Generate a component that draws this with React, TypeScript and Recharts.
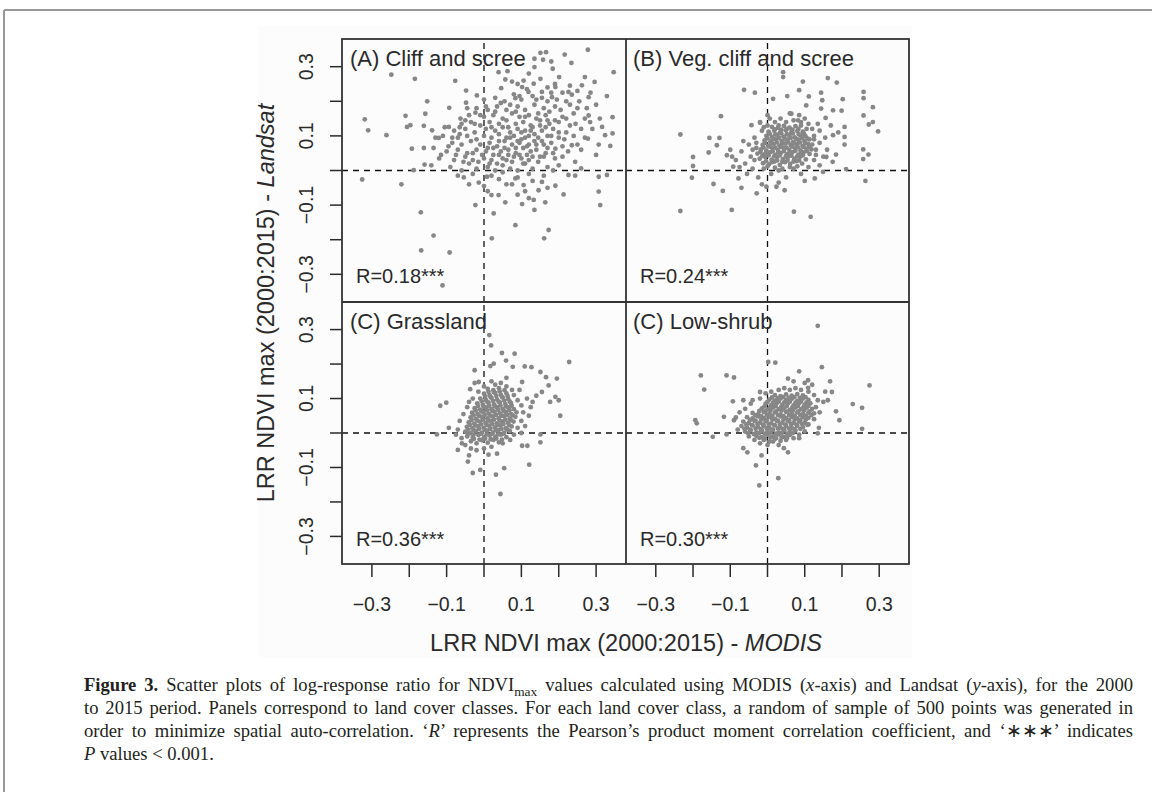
import React from "react";
import { ScatterChart, Scatter, XAxis, YAxis, ReferenceLine } from "recharts";

type Pt = [number, number];

// (A) Cliff and scree
const cliffOuter: Pt[] = [
  [0.278, 0.349], [0.166, 0.342], [0.151, 0.34], [0.216, 0.335], [0.135, 0.323], [0.158, 0.32], [0.18, 0.315],
  [0.234, 0.311], [0.135, 0.299], [0.184, 0.294], [0.347, 0.284], [0.039, 0.284], [0.063, 0.287], [-0.248, 0.277],
  [-0.185, 0.265], [-0.077, 0.259], [0.057, 0.263], [0.075, 0.257], [0.106, 0.26], [0.151, 0.265], [0.201, 0.27],
  [0.296, 0.256], [0.262, 0.246], [0.102, 0.241], [0.046, 0.238], [0.133, 0.251], [0.191, 0.241], [0.119, 0.227],
  [0.155, 0.227], [0.182, 0.212], [0.226, 0.227], [0.235, 0.219], [0.28, 0.212], [0.329, 0.215], [-0.048, 0.231],
  [-0.019, 0.217], [0.084, 0.209], [-0.152, 0.2], [-0.048, 0.196], [-0.023, 0.167], [-0.093, 0.181], [-0.157, 0.164],
  [-0.21, 0.158], [-0.319, 0.148], [-0.31, 0.116], [-0.261, 0.102], [-0.197, 0.131], [-0.206, 0.126], [-0.161, 0.129],
  [-0.139, 0.116], [-0.121, 0.094], [-0.094, 0.126], [-0.063, 0.15], [-0.193, 0.063], [-0.161, 0.065], [0.344, 0.154],
  [0.28, 0.159], [0.284, 0.14], [0.316, 0.126], [0.324, 0.102], [0.344, 0.107], [0.307, 0.075], [0.338, 0.071],
  [0.191, 0.063], [0.235, 0.073], [0.278, 0.092], [0.2, 0.015], [0.244, 0.025], [0.26, 0.006], [0.244, -0.015],
  [0.307, -0.018], [0.329, -0.013], [-0.326, -0.026], [-0.221, -0.04], [-0.188, 0.001], [-0.159, 0.017], [-0.141, 0.015],
  [-0.054, -0.02], [-0.014, -0.035], [0.008, -0.018], [0.039, -0.071], [0.057, -0.092], [0.102, -0.097], [0.133, -0.085],
  [0.135, -0.114], [0.164, -0.092], [0.146, -0.057], [0.213, -0.069], [0.084, -0.023], [0.084, -0.158], [0.173, -0.172],
  [0.161, -0.196], [0.021, -0.196], [0.026, -0.124], [-0.023, -0.1], [0.02, -0.071], [-0.169, -0.121], [-0.135, -0.188],
  [-0.168, -0.231], [-0.092, -0.237], [-0.111, -0.332], [0.307, -0.061], [0.311, -0.1], [0.106, -0.042], [0.155, -0.033],
  [0.191, -0.044], [0.226, -0.013],
];
const cliffCore: Pt[] = [
  [-0.09, 0.01], [-0.06, 0.0], [-0.04, 0.02], [-0.02, 0.005], [0.01, 0.01], [0.03, 0.0], [0.05, 0.015], [0.07, 0.005],
  [0.09, 0.0], [0.11, 0.02], [0.13, 0.005], [0.17, 0.01], [-0.12, 0.035], [-0.08, 0.03], [-0.05, 0.04], [-0.03, 0.03],
  [0.0, 0.035], [0.02, 0.03], [0.04, 0.045], [0.06, 0.03], [0.08, 0.04], [0.1, 0.035], [0.12, 0.03], [0.15, 0.04],
  [0.19, 0.035], [-0.1, 0.055], [-0.07, 0.06], [-0.045, 0.05], [-0.02, 0.06], [0.005, 0.055], [0.025, 0.065], [0.045, 0.055],
  [0.065, 0.06], [0.085, 0.05], [0.105, 0.065], [0.125, 0.055], [0.14, 0.06], [0.165, 0.05], [-0.085, 0.08], [-0.06, 0.075],
  [-0.035, 0.085], [-0.01, 0.075], [0.015, 0.08], [0.035, 0.07], [0.055, 0.085], [0.075, 0.075], [0.095, 0.08], [0.115, 0.07],
  [0.135, 0.085], [0.16, 0.075], [0.18, 0.08], [0.21, 0.07], [-0.11, 0.1], [-0.07, 0.095], [-0.045, 0.1], [-0.02, 0.09],
  [0.0, 0.1], [0.02, 0.095], [0.04, 0.105], [0.06, 0.095], [0.08, 0.1], [0.1, 0.09], [0.12, 0.1], [0.145, 0.095],
  [0.17, 0.1], [0.2, 0.095], [-0.08, 0.115], [-0.05, 0.12], [-0.025, 0.11], [0.005, 0.12], [0.03, 0.115], [0.05, 0.125],
  [0.07, 0.11], [0.09, 0.12], [0.11, 0.115], [0.13, 0.125], [0.155, 0.115], [0.185, 0.12], [0.22, 0.11], [-0.06, 0.135],
  [-0.035, 0.14], [-0.01, 0.13], [0.015, 0.14], [0.04, 0.135], [0.06, 0.145], [0.085, 0.135], [0.105, 0.14], [0.125, 0.13],
  [0.15, 0.145], [0.175, 0.135], [0.2, 0.14], [-0.04, 0.16], [0.0, 0.155], [0.025, 0.16], [0.05, 0.15], [0.075, 0.165],
  [0.095, 0.155], [0.12, 0.16], [0.14, 0.15], [0.165, 0.16], [0.21, 0.155], [0.24, 0.165], [-0.02, 0.18], [0.01, 0.175],
  [0.035, 0.185], [0.06, 0.175], [0.09, 0.185], [0.11, 0.175], [0.135, 0.19], [0.16, 0.18], [0.19, 0.185], [0.23, 0.19],
  [0.0, 0.205], [0.03, 0.21], [0.055, 0.2], [0.08, 0.22], [0.1, 0.205], [0.13, 0.215], [0.17, 0.2], [-0.03, -0.01],
  [0.02, -0.015], [0.05, -0.005], [0.09, -0.02], [0.12, -0.01], [-0.07, -0.015], [0.0, -0.045], [0.06, -0.04], [0.11, -0.06],
  [0.17, -0.05], [0.22, 0.2], [0.25, 0.18], [0.27, 0.15], [0.24, 0.1], [0.26, 0.06], [0.21, 0.04], [0.23, 0.13],
  [0.19, 0.25], [0.17, 0.24], [0.12, 0.28], [0.09, 0.25], [0.27, 0.27], [0.3, 0.19], [0.31, 0.15], [0.25, 0.23],
];
const cliffExtra: Pt[] = [
  [-0.115, 0.045], [-0.095, 0.07], [-0.075, 0.045], [-0.055, 0.025], [-0.065, 0.105], [-0.05, 0.145], [-0.03, 0.05],
  [-0.015, 0.025], [-0.005, 0.045], [0.01, 0.065], [0.015, 0.02], [0.025, 0.045], [0.035, 0.02], [0.04, 0.085],
  [0.05, 0.035], [0.055, 0.065], [0.065, 0.045], [0.07, 0.095], [0.075, 0.025], [0.085, 0.065], [0.09, 0.085],
  [0.095, 0.045], [0.1, 0.11], [0.105, 0.02], [0.11, 0.095], [0.115, 0.045], [0.12, 0.075], [0.125, 0.115],
  [0.13, 0.04], [0.135, 0.105], [0.14, 0.075], [0.145, 0.025], [0.15, 0.13], [0.155, 0.085], [0.16, 0.04],
  [0.165, 0.125], [0.17, 0.065], [0.175, 0.17], [0.18, 0.1], [0.185, 0.05], [0.19, 0.145], [0.195, 0.205],
  [0.2, 0.11], [0.205, 0.175], [0.21, 0.225], [0.215, 0.09], [0.22, 0.15], [0.225, 0.055], [0.23, 0.245],
  [0.245, 0.135], [0.25, 0.075], [0.255, 0.2], [0.26, 0.12], [0.27, 0.095], [0.275, 0.18], [0.285, 0.225],
  [0.29, 0.12], [0.3, 0.045], [-0.025, 0.135], [-0.01, 0.16], [0.005, 0.185], [0.02, 0.125], [0.03, 0.17],
  [0.045, 0.195], [0.065, 0.125], [0.07, 0.19], [0.085, 0.17], [0.095, 0.215], [0.11, 0.155], [0.115, 0.235],
  [0.14, 0.205], [0.145, 0.165], [0.155, 0.21], [0.17, 0.145], [0.18, 0.225], [-0.045, 0.18], [-0.065, 0.125],
  [-0.085, 0.095], [-0.105, 0.125], [-0.135, 0.065], [-0.13, 0.095], [0.04, -0.025], [0.075, -0.04], [0.13, -0.03],
  [0.16, -0.015], [0.185, 0.0], [-0.04, -0.04], [0.01, -0.06], [0.09, -0.07], [0.12, -0.08],
];

// (B) Veg. cliff and scree
const vegOuter: Pt[] = [
  [0.042, 0.284], [0.042, 0.27], [0.162, 0.267], [0.186, 0.254], [0.095, 0.257], [-0.063, 0.233], [-0.034, 0.225],
  [0.015, 0.207], [0.053, 0.215], [0.085, 0.232], [0.111, 0.214], [0.144, 0.225], [0.147, 0.203], [0.202, 0.206],
  [0.258, 0.227], [0.258, 0.209], [0.283, 0.183], [0.258, 0.159], [0.176, 0.174], [0.199, 0.173], [0.144, 0.179],
  [0.104, 0.188], [-0.125, 0.157], [-0.234, 0.104], [-0.156, 0.094], [-0.129, 0.094], [-0.158, 0.052], [-0.2, 0.039],
  [-0.2, 0.013], [-0.203, -0.021], [-0.145, -0.039], [-0.12, -0.059], [-0.234, -0.117], [-0.096, -0.114], [-0.029, -0.066],
  [0.071, -0.119], [0.116, -0.134], [0.283, 0.14], [0.272, 0.133], [0.297, 0.113], [0.207, 0.126], [0.207, 0.097],
  [0.207, 0.075], [0.257, 0.061], [0.257, 0.033], [0.271, 0.046], [0.263, -0.03], [0.211, 0.004], [0.176, 0.102],
  [0.184, 0.046], [0.158, 0.039], [0.149, -0.004], [0.127, -0.023], [0.046, -0.057], [0.024, -0.047], [-0.003, -0.047],
  [-0.07, -0.05], [-0.078, -0.023], [-0.092, 0.011], [-0.109, 0.044], [-0.136, 0.073], [-0.043, 0.131], [-0.02, 0.138],
  [0.006, 0.15], [0.064, 0.164], [0.082, 0.145], [0.135, 0.135], [0.156, 0.152],
];
const vegCore: Pt[] = [
  [-0.012, 0.021], [0.004, 0.018], [0.019, 0.026], [0.033, 0.016], [0.047, 0.024], [0.061, 0.019], [0.078, 0.027], [0.093, 0.02],
  [-0.021, 0.034], [-0.006, 0.039], [0.011, 0.031], [0.026, 0.038], [0.041, 0.033], [0.057, 0.041], [0.072, 0.034], [0.088, 0.04],
  [0.103, 0.032], [-0.027, 0.049], [-0.011, 0.046], [0.006, 0.052], [0.021, 0.045], [0.036, 0.051], [0.052, 0.047], [0.067, 0.053],
  [0.083, 0.046], [0.097, 0.052], [0.113, 0.048], [-0.018, 0.061], [-0.003, 0.058], [0.013, 0.064], [0.028, 0.059], [0.043, 0.066],
  [0.058, 0.06], [0.074, 0.065], [0.089, 0.058], [0.104, 0.063], [0.118, 0.061], [-0.013, 0.074], [0.002, 0.071], [0.017, 0.077],
  [0.032, 0.072], [0.048, 0.078], [0.063, 0.073], [0.079, 0.076], [0.094, 0.071], [0.109, 0.077], [-0.008, 0.087], [0.008, 0.084],
  [0.023, 0.09], [0.038, 0.085], [0.054, 0.089], [0.069, 0.083], [0.084, 0.088], [0.099, 0.085], [0.113, 0.09], [-0.003, 0.1],
  [0.012, 0.097], [0.027, 0.103], [0.043, 0.098], [0.058, 0.102], [0.073, 0.096], [0.088, 0.101], [0.102, 0.099], [0.003, 0.112],
  [0.018, 0.115], [0.034, 0.11], [0.049, 0.116], [0.064, 0.111], [0.08, 0.114], [0.095, 0.112], [0.012, 0.126], [0.028, 0.123],
  [0.044, 0.129], [0.059, 0.124], [0.075, 0.128], [-0.085, 0.03], [-0.07, 0.055], [-0.06, 0.02], [-0.05, 0.075], [-0.045, 0.04],
  [-0.035, 0.095], [-0.04, 0.005], [-0.03, 0.065], [-0.065, 0.085], [-0.055, -0.01], [-0.025, -0.02], [-0.01, 0.005], [0.01, -0.01],
  [0.03, 0.0], [0.05, -0.02], [0.07, 0.005], [0.09, -0.01], [0.11, 0.01], [0.125, 0.03], [0.13, 0.06], [0.14, 0.08],
  [0.125, 0.1], [0.12, 0.12], [0.11, 0.135], [0.09, 0.13], [0.1, 0.15], [0.07, 0.145], [0.05, 0.14], [0.035, 0.15],
  [0.02, 0.14], [0.0, 0.13], [-0.015, 0.115], [-0.02, 0.14], [0.06, 0.165], [0.085, 0.16], [0.14, 0.115], [0.155, 0.095],
  [0.16, 0.06], [0.15, 0.04], [0.14, 0.015], [0.17, 0.13], [0.19, 0.11], [0.175, 0.025], [0.1, -0.03], [-0.015, -0.04],
  [0.03, -0.035], [-0.075, 0.01], [-0.1, 0.06], [-0.095, 0.04], [0.0, 0.16],
];
const vegDense: Pt[] = [
  [-0.004, 0.027], [0.012, 0.024], [0.026, 0.029], [0.04, 0.025], [0.054, 0.03], [0.07, 0.026], [0.085, 0.029],
  [-0.014, 0.042], [0.003, 0.044], [0.018, 0.041], [0.033, 0.044], [0.049, 0.04], [0.064, 0.043], [0.08, 0.041], [0.095, 0.044],
  [-0.019, 0.054], [-0.004, 0.052], [0.014, 0.055], [0.029, 0.053], [0.044, 0.056], [0.06, 0.053], [0.075, 0.057], [0.09, 0.054],
  [0.106, 0.056], [-0.011, 0.067], [0.006, 0.069], [0.021, 0.066], [0.036, 0.068], [0.051, 0.066], [0.066, 0.069], [0.082, 0.067],
  [0.097, 0.068], [0.112, 0.068], [-0.006, 0.08], [0.01, 0.078], [0.025, 0.081], [0.04, 0.079], [0.056, 0.081], [0.071, 0.079],
  [0.087, 0.081], [0.102, 0.079], [0.0, 0.093], [0.016, 0.091], [0.031, 0.094], [0.047, 0.092], [0.062, 0.094], [0.078, 0.091],
  [0.093, 0.094], [0.108, 0.092], [0.006, 0.106], [0.021, 0.104], [0.037, 0.107], [0.052, 0.105], [0.068, 0.107], [0.084, 0.105],
  [0.098, 0.106], [0.02, 0.119], [0.037, 0.118], [0.052, 0.12], [0.067, 0.118], [0.083, 0.12], [-0.035, 0.03], [-0.04, 0.06],
  [-0.03, 0.08], [0.12, 0.075], [0.125, 0.09], [0.13, 0.045], [0.105, 0.12], [0.09, 0.14], [0.03, 0.13], [-0.01, 0.125],
  [0.06, 0.01], [0.04, 0.005], [0.08, 0.012], [0.02, 0.008], [0.0, 0.012],
];

// (C) Grassland
const grassOuter: Pt[] = [
  [0.014, 0.284], [0.019, 0.254], [0.048, 0.232], [0.082, 0.23], [0.059, 0.21], [0.026, 0.201], [0.017, 0.194],
  [0.077, 0.192], [0.109, 0.193], [0.127, 0.191], [0.228, 0.206], [-0.025, 0.182], [0.151, 0.177], [0.166, 0.162],
  [0.195, 0.158], [0.173, 0.138], [0.155, 0.119], [0.191, 0.105], [0.2, 0.095], [0.177, 0.09], [0.204, 0.05],
  [0.14, 0.108], [-0.117, 0.079], [-0.101, 0.088], [-0.037, 0.127], [-0.014, 0.148], [0.102, 0.148], [-0.094, 0.015],
  [-0.126, -0.004], [0.151, -0.004], [0.151, -0.027], [0.102, -0.037], [0.116, -0.037], [0.121, -0.092], [0.054, -0.102],
  [0.032, -0.121], [-0.01, -0.107], [-0.03, -0.116], [0.044, -0.177], [0.012, -0.063], [-0.059, -0.03], [-0.07, -0.049],
  [-0.043, -0.083],
];
const grassCore: Pt[] = [
  [-0.035, -0.024], [-0.02, -0.03], [-0.005, -0.021], [0.01, -0.028], [0.025, -0.02], [0.04, -0.027], [-0.045, -0.01],
  [-0.03, -0.013], [-0.015, -0.006], [0.0, -0.012], [0.015, -0.007], [0.03, -0.011], [0.045, -0.005], [0.06, -0.012],
  [-0.05, 0.004], [-0.036, 0.0], [-0.021, 0.006], [-0.006, 0.001], [0.009, 0.007], [0.024, 0.002], [0.039, 0.008],
  [0.054, 0.001], [0.069, 0.006], [-0.046, 0.018], [-0.031, 0.014], [-0.016, 0.02], [-0.001, 0.015], [0.014, 0.021],
  [0.029, 0.016], [0.044, 0.022], [0.059, 0.014], [0.074, 0.019], [-0.041, 0.031], [-0.026, 0.027], [-0.011, 0.033],
  [0.004, 0.029], [0.019, 0.035], [0.034, 0.028], [0.049, 0.034], [0.064, 0.03], [0.079, 0.033], [-0.036, 0.045],
  [-0.021, 0.041], [-0.006, 0.047], [0.009, 0.042], [0.024, 0.048], [0.039, 0.043], [0.054, 0.049], [0.069, 0.042],
  [0.084, 0.047], [-0.032, 0.059], [-0.017, 0.055], [-0.002, 0.061], [0.013, 0.056], [0.028, 0.062], [0.043, 0.057],
  [0.058, 0.061], [0.073, 0.055], [0.087, 0.06], [-0.025, 0.072], [-0.01, 0.068], [0.005, 0.074], [0.02, 0.069],
  [0.035, 0.075], [0.05, 0.07], [0.065, 0.074], [0.08, 0.069], [-0.018, 0.086], [-0.003, 0.082], [0.012, 0.088],
  [0.027, 0.083], [0.042, 0.089], [0.057, 0.084], [0.072, 0.087], [-0.01, 0.1], [0.005, 0.096], [0.02, 0.102],
  [0.035, 0.097], [0.05, 0.103], [0.065, 0.098], [0.0, 0.114], [0.015, 0.11], [0.03, 0.116], [0.045, 0.111],
  [0.06, 0.115], [0.01, 0.128], [0.025, 0.124], [0.04, 0.13], [-0.07, 0.01], [-0.065, 0.035], [-0.06, -0.015],
  [-0.055, 0.055], [-0.05, -0.035], [-0.045, 0.075], [-0.035, -0.045], [-0.02, -0.05], [0.0, -0.045], [0.02, -0.04],
  [0.05, -0.03], [0.07, -0.02], [0.08, -0.005], [0.09, 0.015], [0.1, 0.035], [0.105, 0.06], [0.1, 0.08], [0.09, 0.095],
  [0.08, 0.11], [0.075, 0.125], [0.06, 0.135], [0.045, 0.145], [0.03, 0.14], [0.02, 0.15], [0.0, 0.135], [-0.015, 0.12],
  [-0.03, 0.1], [-0.04, 0.09], [0.11, 0.02], [0.12, 0.05], [0.125, 0.075], [0.115, 0.1], [0.13, 0.09], [0.095, 0.125],
  [0.06, 0.16], [-0.025, 0.145], [0.035, -0.06], [-0.04, -0.065], [0.1, 0.0], [-0.075, -0.005],
];
const grassDense: Pt[] = [
  [-0.027, -0.017], [-0.012, -0.019], [0.003, -0.016], [0.018, -0.018], [0.033, -0.016], [0.048, -0.019], [-0.043, -0.003],
  [-0.028, -0.005], [-0.008, -0.002], [0.007, -0.004], [0.022, -0.002], [0.037, -0.004], [0.052, -0.002], [-0.043, 0.01],
  [-0.028, 0.009], [-0.013, 0.012], [0.002, 0.009], [0.017, 0.012], [0.032, 0.009], [0.047, 0.012], [0.062, 0.01],
  [-0.038, 0.024], [-0.023, 0.022], [-0.008, 0.025], [0.007, 0.023], [0.022, 0.026], [0.037, 0.023], [0.052, 0.026],
  [0.067, 0.023], [-0.033, 0.038], [-0.018, 0.036], [-0.003, 0.039], [0.012, 0.036], [0.027, 0.039], [0.042, 0.036],
  [0.057, 0.039], [0.072, 0.037], [-0.028, 0.051], [-0.013, 0.05], [0.002, 0.053], [0.017, 0.05], [0.032, 0.053],
  [0.047, 0.05], [0.062, 0.053], [0.077, 0.051], [-0.022, 0.065], [-0.007, 0.063], [0.008, 0.066], [0.023, 0.064],
  [0.038, 0.067], [0.053, 0.064], [0.068, 0.066], [-0.016, 0.078], [-0.001, 0.076], [0.014, 0.079], [0.029, 0.077],
  [0.044, 0.08], [0.059, 0.077], [0.074, 0.079], [-0.006, 0.092], [0.009, 0.09], [0.024, 0.093], [0.039, 0.091],
  [0.054, 0.094], [0.069, 0.091], [0.003, 0.106], [0.018, 0.104], [0.033, 0.107], [0.048, 0.105], [0.063, 0.107],
  [0.012, 0.12], [0.027, 0.118], [0.042, 0.121], [0.055, 0.124],
];

// (C) Low-shrub
const shrubOuter: Pt[] = [
  [0.135, 0.311], [0.002, 0.206], [0.021, 0.204], [-0.179, 0.167], [-0.11, 0.167], [-0.09, 0.161], [-0.17, 0.126],
  [0.085, 0.179], [0.146, 0.191], [0.274, 0.138], [0.168, 0.15], [0.173, 0.119], [0.162, 0.095], [0.229, 0.084],
  [0.254, 0.073], [0.184, 0.063], [0.193, 0.037], [0.254, 0.012], [-0.194, 0.037], [-0.19, 0.028], [-0.147, -0.011],
  [-0.11, -0.004], [-0.117, 0.047], [-0.093, 0.092], [-0.065, 0.095], [-0.09, 0.037], [-0.02, 0.119], [0.055, 0.158],
  [0.109, 0.153], [0.109, 0.131], [-0.065, -0.044], [-0.054, -0.056], [-0.016, -0.065], [-0.031, -0.094], [-0.022, -0.152],
  [0.029, -0.131], [0.044, -0.044], [0.055, -0.056], [0.085, -0.015], [0.135, -0.001], [0.138, 0.015], [0.015, -0.025],
];
const shrubCore: Pt[] = [
  [-0.01, -0.02], [0.005, -0.025], [0.02, -0.017], [0.035, -0.023], [-0.03, -0.008], [-0.015, -0.012], [0.0, -0.005],
  [0.015, -0.01], [0.03, -0.004], [0.045, -0.011], [0.06, -0.006], [-0.06, 0.004], [-0.045, 0.008], [-0.03, 0.002],
  [-0.015, 0.007], [0.0, 0.003], [0.015, 0.009], [0.03, 0.002], [0.045, 0.008], [0.06, 0.003], [0.075, 0.007],
  [-0.07, 0.02], [-0.055, 0.016], [-0.04, 0.022], [-0.025, 0.017], [-0.01, 0.021], [0.005, 0.015], [0.02, 0.022],
  [0.035, 0.016], [0.05, 0.02], [0.065, 0.015], [0.08, 0.021], [0.095, 0.017], [-0.065, 0.033], [-0.05, 0.029],
  [-0.035, 0.035], [-0.02, 0.03], [-0.005, 0.034], [0.01, 0.028], [0.025, 0.035], [0.04, 0.03], [0.055, 0.034],
  [0.07, 0.029], [0.085, 0.033], [0.1, 0.03], [-0.055, 0.046], [-0.04, 0.042], [-0.025, 0.048], [-0.01, 0.043],
  [0.005, 0.047], [0.02, 0.041], [0.035, 0.048], [0.05, 0.043], [0.065, 0.047], [0.08, 0.042], [0.095, 0.046],
  [0.11, 0.044], [-0.04, 0.058], [-0.025, 0.055], [-0.01, 0.061], [0.005, 0.056], [0.02, 0.06], [0.035, 0.054],
  [0.05, 0.061], [0.065, 0.056], [0.08, 0.06], [0.095, 0.055], [0.11, 0.059], [0.125, 0.057], [-0.015, 0.071],
  [0.0, 0.068], [0.015, 0.074], [0.03, 0.069], [0.045, 0.073], [0.06, 0.067], [0.075, 0.074], [0.09, 0.069],
  [0.105, 0.073], [0.12, 0.07], [-0.005, 0.085], [0.01, 0.081], [0.025, 0.087], [0.04, 0.082], [0.055, 0.086],
  [0.07, 0.08], [0.085, 0.087], [0.1, 0.082], [0.115, 0.086], [0.005, 0.097], [0.02, 0.094], [0.035, 0.1],
  [0.05, 0.095], [0.065, 0.099], [0.08, 0.093], [0.095, 0.1], [0.11, 0.096], [0.02, 0.11], [0.035, 0.107],
  [0.05, 0.112], [0.065, 0.108], [0.08, 0.113], [0.095, 0.109], [-0.085, 0.045], [-0.08, 0.01], [-0.075, 0.06],
  [-0.06, 0.07], [-0.045, 0.085], [-0.05, -0.01], [-0.035, -0.02], [-0.04, 0.095], [-0.02, 0.1], [-0.005, 0.115],
  [0.01, 0.12], [0.03, 0.125], [0.045, 0.13], [0.06, 0.125], [0.075, 0.13], [0.09, 0.125], [0.11, 0.12], [0.125, 0.11],
  [0.135, 0.095], [0.13, 0.075], [0.14, 0.06], [0.125, 0.04], [0.11, 0.025], [0.1, 0.005], [0.085, -0.005], [0.07, -0.015],
  [0.05, -0.02], [0.03, -0.035], [0.0, -0.035], [-0.02, -0.03], [0.15, 0.09], [0.155, 0.12], [0.12, 0.14], [0.1, 0.145],
  [0.07, 0.15],
];
const shrubDense: Pt[] = [
  [-0.022, -0.014], [-0.007, -0.016], [0.008, -0.013], [0.023, -0.015], [0.038, -0.013], [0.052, -0.015], [-0.052, -0.001],
  [-0.037, -0.003], [-0.022, 0.0], [-0.007, -0.002], [0.008, 0.001], [0.023, -0.002], [0.038, 0.0], [0.053, -0.002],
  [0.068, 0.0], [-0.062, 0.012], [-0.047, 0.01], [-0.032, 0.013], [-0.017, 0.011], [-0.002, 0.013], [0.013, 0.01],
  [0.028, 0.013], [0.043, 0.011], [0.058, 0.013], [0.073, 0.011], [0.088, 0.012], [-0.057, 0.025], [-0.042, 0.023],
  [-0.027, 0.026], [-0.012, 0.024], [0.003, 0.026], [0.018, 0.023], [0.033, 0.026], [0.048, 0.024], [0.063, 0.026],
  [0.078, 0.024], [0.093, 0.026], [0.107, 0.024], [-0.047, 0.038], [-0.032, 0.036], [-0.017, 0.039], [-0.002, 0.037],
  [0.013, 0.039], [0.028, 0.036], [0.043, 0.039], [0.058, 0.037], [0.073, 0.039], [0.088, 0.037], [0.103, 0.039],
  [-0.032, 0.051], [-0.017, 0.049], [-0.002, 0.052], [0.013, 0.05], [0.028, 0.052], [0.043, 0.049], [0.058, 0.052],
  [0.073, 0.05], [0.088, 0.052], [0.103, 0.05], [0.118, 0.052], [-0.022, 0.064], [-0.007, 0.062], [0.008, 0.065],
  [0.023, 0.063], [0.038, 0.065], [0.053, 0.062], [0.068, 0.065], [0.083, 0.063], [0.098, 0.065], [0.113, 0.063],
  [-0.008, 0.077], [0.007, 0.075], [0.022, 0.078], [0.037, 0.076], [0.052, 0.078], [0.067, 0.075], [0.082, 0.078],
  [0.097, 0.076], [0.11, 0.078], [0.0, 0.09], [0.015, 0.088], [0.03, 0.091], [0.045, 0.089], [0.06, 0.091],
  [0.075, 0.088], [0.09, 0.091], [0.105, 0.089], [0.012, 0.103], [0.027, 0.101], [0.042, 0.104], [0.057, 0.102],
  [0.072, 0.104], [0.087, 0.102], [0.102, 0.104],
];

const panelTitles = ["(A) Cliff and scree", "(B) Veg. cliff and scree", "(C) Grassland", "(C) Low-shrub"];
const panelR = ["R=0.18***", "R=0.24***", "R=0.36***", "R=0.30***"];
const axisTicks = [-0.3, -0.2, -0.1, 0, 0.1, 0.2, 0.3];
const labelledTicks = [-0.3, -0.1, 0.1, 0.3];
const DOMAIN: [number, number] = [-0.38, 0.38];

const SANS = "'Liberation Sans', Arial, Helvetica, sans-serif";
const INK = "#2a2a2a";
const DOT = "#878787";

const fmt = (v: number) => (v < 0 ? "\u2212" + Math.abs(v).toFixed(1) : v.toFixed(1));
const hasLabel = (v: number) => labelledTicks.some((t) => Math.abs(t - v) < 1e-6);
const toRows = (...sets: Pt[][]) => sets.flat().map(([x, y]) => ({ x, y }));

const Dot = (p: any) => <circle cx={p.cx} cy={p.cy} r={2.4} fill={DOT} />;

const XTick = (p: any) =>
  hasLabel(p.payload.value) ? (
    <text x={p.x} y={p.y + 32} textAnchor="middle" fontSize={19.5} fontFamily={SANS} fill={INK}>
      {fmt(p.payload.value)}
    </text>
  ) : (
    <g />
  );

const YTick = (p: any) => {
  if (!hasLabel(p.payload.value)) return <g />;
  const tx = p.x - 22;
  return (
    <text
      x={tx}
      y={p.y}
      transform={`rotate(-90 ${tx} ${p.y})`}
      textAnchor="middle"
      dominantBaseline="central"
      fontSize={19.5}
      fontFamily={SANS}
      fill={INK}
    >
      {fmt(p.payload.value)}
    </text>
  );
};

interface PanelProps {
  rows: { x: number; y: number }[];
  left: number;
  top: number;
  w: number;
  h: number;
  showX: boolean;
  showY: boolean;
}

const Panel: React.FC<PanelProps> = ({ rows, left, top, w, h, showX, showY }) => {
  const yW = showY ? 60 : 0;
  const xH = showX ? 60 : 0;
  return (
    <div style={{ position: "absolute", left: left - yW, top }}>
      <ScatterChart width={w + yW} height={h + xH} margin={{ top: 0, right: 0, bottom: 0, left: 0 }}>
        <XAxis
          type="number"
          dataKey="x"
          domain={DOMAIN}
          ticks={axisTicks}
          interval={0}
          allowDataOverflow
          hide={!showX}
          height={60}
          axisLine={false}
          tickSize={13}
          tickLine={{ stroke: INK, strokeWidth: 1.5 }}
          tick={<XTick />}
        />
        <YAxis
          type="number"
          dataKey="y"
          domain={DOMAIN}
          ticks={axisTicks}
          interval={0}
          allowDataOverflow
          hide={!showY}
          width={60}
          axisLine={false}
          tickSize={12}
          tickLine={{ stroke: INK, strokeWidth: 1.5 }}
          tick={<YTick />}
        />
        <Scatter data={rows} shape={Dot} isAnimationActive={false} />
        <ReferenceLine x={0} stroke="#111" strokeWidth={1.3} strokeDasharray="6 5" />
        <ReferenceLine y={0} stroke="#111" strokeWidth={1.3} strokeDasharray="6 5" />
      </ScatterChart>
    </div>
  );
};

const App: React.FC = () => {
  const textStyle = { fontFamily: SANS, fill: INK };
  const lineStyle: React.CSSProperties = { whiteSpace: "nowrap", textAlign: "justify", textAlignLast: "justify" };
  return (
    <div style={{ position: "absolute", left: 0, top: 0, width: 1152, height: 792, background: "#fff", overflow: "hidden" }}>
      {/* frame + figure background */}
      <svg width={1152} height={792} style={{ position: "absolute", left: 0, top: 0 }}>
        <rect x={258} y={26} width={654} height={632} fill="#fcfcfc" />
        <line x1={4} y1={10} x2={1152} y2={10} stroke="#999" strokeWidth={2} />
        <line x1={4} y1={10} x2={4} y2={792} stroke="#999" strokeWidth={2} />
      </svg>

      <Panel rows={toRows(cliffOuter, cliffCore, cliffExtra)} left={342} top={39} w={284} h={263} showX={false} showY />
      <Panel rows={toRows(vegOuter, vegCore, vegDense)} left={626} top={39} w={283} h={263} showX={false} showY={false} />
      <Panel rows={toRows(grassOuter, grassCore, grassDense)} left={342} top={302} w={284} h={262} showX showY />
      <Panel rows={toRows(shrubOuter, shrubCore, shrubDense)} left={626} top={302} w={283} h={262} showX showY={false} />

      {/* panel boxes, titles and axis labels */}
      <svg width={1152} height={792} style={{ position: "absolute", left: 0, top: 0, pointerEvents: "none" }}>
        <rect x={342} y={39} width={567} height={525} fill="none" stroke="#333" strokeWidth={1.8} />
        <line x1={626} y1={39} x2={626} y2={564} stroke="#333" strokeWidth={1.8} />
        <line x1={342} y1={302} x2={909} y2={302} stroke="#333" strokeWidth={1.8} />

        <text x={350} y={66} fontSize={22} {...textStyle}>{panelTitles[0]}</text>
        <text x={633} y={66} fontSize={22} {...textStyle}>{panelTitles[1]}</text>
        <text x={350} y={329} fontSize={22} {...textStyle}>{panelTitles[2]}</text>
        <text x={633} y={329} fontSize={22} {...textStyle}>{panelTitles[3]}</text>

        <text x={356} y={283} fontSize={20} {...textStyle}>{panelR[0]}</text>
        <text x={640} y={283} fontSize={20} {...textStyle}>{panelR[1]}</text>
        <text x={356} y={546} fontSize={20} {...textStyle}>{panelR[2]}</text>
        <text x={640} y={546} fontSize={20} {...textStyle}>{panelR[3]}</text>

        <text
          x={266}
          y={303}
          transform="rotate(-90 266 303)"
          textAnchor="middle"
          dominantBaseline="central"
          fontSize={23.5}
          {...textStyle}
        >
          LRR NDVI max (2000:2015) - <tspan fontStyle="italic">Landsat</tspan>
        </text>
        <text x={626} y={651} textAnchor="middle" fontSize={23.5} {...textStyle}>
          LRR NDVI max (2000:2015) - <tspan fontStyle="italic">MODIS</tspan>
        </text>
      </svg>

      {/* caption */}
      <div
        style={{
          position: "absolute",
          left: 84,
          top: 673,
          width: 1049,
          fontFamily: "'Liberation Serif', 'Times New Roman', serif",
          fontSize: 18.6,
          lineHeight: "23px",
          color: "#231f20",
        }}
      >
        <div style={lineStyle}>
          <b>Figure 3.</b> Scatter plots of log-response ratio for NDVI
          <sub style={{ fontSize: "0.72em", lineHeight: 0, verticalAlign: "-0.35em" }}>max</sub> values calculated using
          MODIS (<i>x</i>-axis) and Landsat (<i>y</i>-axis), for the 2000
        </div>
        <div style={lineStyle}>
          to 2015 period. Panels correspond to land cover classes. For each land cover class, a random of sample of 500
          points was generated in
        </div>
        <div style={lineStyle}>
          order to minimize spatial auto-correlation. {"\u2018"}<i>R</i>{"\u2019"} represents the Pearson{"\u2019"}s
          product moment correlation coefficient, and {"\u2018\u2217\u2217\u2217\u2019"} indicates
        </div>
        <div style={{ whiteSpace: "nowrap" }}>
          <i>P</i> values {"<"} 0.001.
        </div>
      </div>
    </div>
  );
};

export default App;
